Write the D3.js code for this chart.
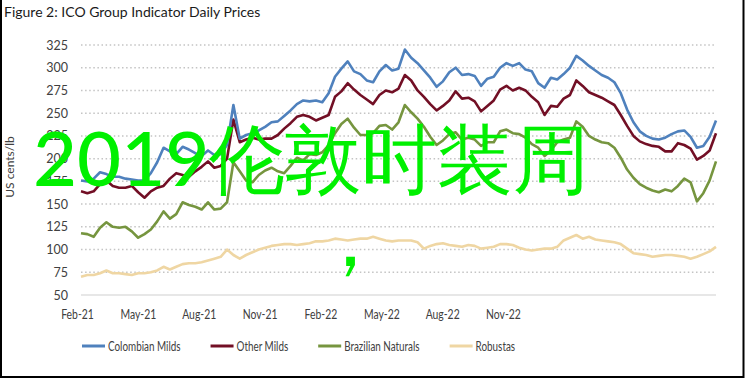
<!DOCTYPE html>
<html>
<head>
<meta charset="utf-8">
<script src="https://cdn.jsdelivr.net/npm/d3@7"></script>
<style>
  body { margin: 0; background: #fff; }
  text { font-family: Lato, "Open Sans", sans-serif; }
</style>
</head>
<body>
<div id="chart"></div>
<script>
// values, one reading per step along the x axis
var xLabels = ["Feb-21", "May-21", "Aug-21", "Nov-21", "Feb-22", "May-22", "Aug-22", "Nov-22"];
var yTicks = [50, 75, 100, 125, 150, 175, 200, 225, 250, 275, 300, 325];
var seriesNames = ["Colombian Milds", "Other Milds", "Brazilian Naturals", "Robustas"];

var colombianMilds = [176, 175, 178, 185, 183, 180, 180, 178, 177, 176,
  176, 184, 196, 212, 208, 205, 213, 210, 206, 203,
  209, 204, 205, 215, 259, 222, 226, 228, 231, 235,
  240, 241, 247, 253, 260, 264, 263, 264, 262, 272,
  290, 299, 307, 296, 293, 286, 284, 296, 303, 297,
  299, 320, 311, 305, 297, 289, 279, 285, 295, 300,
  292, 293, 291, 280, 288, 290, 300, 305, 302, 305,
  298, 296, 283, 278, 289, 287, 293, 300, 313, 308,
  302, 297, 292, 289, 284, 272, 254, 240, 230, 225,
  222, 221, 223, 227, 230, 231, 224, 212, 214, 224, 242];

var otherMilds = [164, 162, 164, 172, 176, 170, 168, 168, 170, 163,
  157, 164, 168, 170, 178, 184, 182, 180, 186, 191,
  197, 190, 192, 200, 243, 218, 221, 223, 221, 222,
  222, 226, 233, 239, 246, 248, 246, 242, 245, 248,
  268, 274, 283, 276, 270, 265, 260, 270, 275, 273,
  277, 292, 286, 275, 268, 260, 253, 258, 264, 274,
  266, 267, 263, 252, 258, 264, 276, 280, 275, 278,
  275, 268, 262, 248, 258, 257, 266, 270, 286, 280,
  273, 270, 267, 263, 259, 248, 236, 225, 219, 216,
  214, 213, 208, 208, 217, 215, 211, 199, 203, 209, 228];

var brazilianNaturals = [118, 117, 114, 124, 130, 125, 124, 125, 120, 113,
  117, 122, 131, 142, 134, 139, 152, 149, 147, 144,
  152, 144, 145, 152, 196, 186, 176, 174, 182, 187,
  190, 186, 184, 192, 201, 198, 205, 204, 207, 215,
  228, 238, 244, 234, 226, 226, 228, 236, 237, 232,
  240, 259, 251, 244, 235, 224, 215, 220, 227, 229,
  221, 223, 221, 214, 218, 218, 230, 232, 228, 227,
  223, 216, 212, 203, 209, 218, 221, 223, 241, 235,
  225, 221, 218, 217, 212, 201, 188, 179, 172, 168,
  165, 163, 166, 164, 170, 178, 174, 153, 162, 176, 197];

var robustas = [70, 72, 72, 74, 77, 74, 74, 73, 72, 74,
  74, 75, 77, 81, 78, 81, 84, 85, 85, 86,
  88, 90, 92, 100, 94, 90, 94, 97, 100, 102,
  104, 105, 106, 106, 105, 106, 107, 109, 109, 110,
  112, 111, 110, 111, 112, 112, 114, 112, 110, 109,
  110, 110, 110, 108, 101, 104, 106, 107, 105, 104,
  103, 105, 104, 101, 102, 103, 106, 106, 105, 102,
  100, 99, 100, 101, 101, 103, 110, 113, 116, 112,
  114, 111, 110, 109, 108, 106, 101, 96, 95, 94,
  92, 93, 94, 94, 93, 92, 90, 92, 95, 98, 103];

var colors = ["#4f81bd", "#720f25", "#76953f", "#efd6a3"];
var allSeries = [colombianMilds, otherMilds, brazilianNaturals, robustas];

var svgWidth = 745;
var svgHeight = 378;
var squeeze = 0.76; // the original face is a narrow one, Lato is squeezed to fit

var svg = d3.select("#chart")
  .append("svg")
  .attr("width", svgWidth)
  .attr("height", svgHeight);

// frame
svg.append("path")
  .attr("d", "M1,0 V377 H743.5 V0")
  .attr("fill", "none")
  .attr("stroke", "#000")
  .attr("stroke-width", 2);

svg.append("text")
  .attr("x", 4)
  .attr("y", 17)
  .attr("font-size", 14)
  .attr("fill", "#1a1a1a")
  .text("Figure 2: ICO Group Indicator Daily Prices");

var x = d3.scaleLinear()
  .domain([0, colombianMilds.length - 1])
  .range([81, 716]);

var y = d3.scaleLinear()
  .domain([50, 325])
  .range([295, 45]);

var xLab = d3.scalePoint()
  .domain(xLabels)
  .range([77, 503]);

// dotted gridlines
svg.append("g")
  .selectAll("line")
  .data(yTicks.slice(1))
  .enter()
  .append("line")
  .attr("x1", 81)
  .attr("x2", 716)
  .attr("y1", d => y(d))
  .attr("y2", d => y(d))
  .attr("stroke", "#c4c4c4")
  .attr("stroke-width", 1.5)
  .attr("stroke-dasharray", "1.5,2.6");

svg.append("line")
  .attr("x1", 81)
  .attr("x2", 716)
  .attr("y1", y(50))
  .attr("y2", y(50))
  .attr("stroke", "#d0d0d0")
  .attr("stroke-width", 1.2);

var yAxis = svg.append("g")
  .attr("transform", "translate(81,0)")
  .call(d3.axisLeft(y).tickValues(yTicks).tickSize(0).tickPadding(13));
yAxis.select(".domain").remove();
yAxis.selectAll("text")
  .attr("font-size", 12.5)
  .attr("fill", "#404040");

var xAxis = svg.append("g")
  .attr("transform", `translate(0,${y(50)})`)
  .call(d3.axisBottom(xLab).tickSize(0).tickPadding(15));
xAxis.select(".domain").remove();
xAxis.selectAll("text")
  .attr("font-size", 13)
  .attr("font-family", "Lato, sans-serif")
  .attr("fill", "#404040")
  .attr("transform", "scale(0.8,1)");

svg.append("text")
  .attr("transform", "translate(14,167) rotate(-90)")
  .attr("text-anchor", "middle")
  .attr("font-size", 12)
  .attr("fill", "#404040")
  .text("US cents/lb");

var line = d3.line()
  .x((d, i) => x(i))
  .y(d => y(d));

// draw back to front so the blue sits on top
svg.append("g")
  .selectAll("path")
  .data(allSeries.slice().reverse())
  .enter()
  .append("path")
  .attr("d", d => line(d))
  .attr("fill", "none")
  .attr("stroke", (d, i) => colors[colors.length - 1 - i])
  .attr("stroke-width", 2.6)
  .attr("stroke-linejoin", "round");

// legend, laid out left to right
var legend = svg.append("g").attr("transform", "translate(0,346)");
var lx = 82;
seriesNames.forEach(function(name, i) {
  legend.append("line")
    .attr("x1", lx)
    .attr("x2", lx + 23)
    .attr("stroke", colors[i])
    .attr("stroke-width", 3);
  var t = legend.append("text")
    .attr("transform", `translate(${lx + 26},4.5) scale(${squeeze},1)`)
    .attr("font-size", 13)
    .attr("fill", "#404040")
    .text(name);
  lx += 26 + t.node().getComputedTextLength() * squeeze + 30;
});

// overlay text
svg.append("text")
  .attr("x", 33)
  .attr("y", 186)
  .attr("font-family", "'Noto Sans CJK SC', sans-serif")
  .attr("font-weight", 500)
  .attr("font-size", 76)
  .attr("fill", "#00f000")
  .text("2019伦敦时装周");

svg.append("text")
  .attr("x", 310)
  .attr("y", 266)
  .attr("font-family", "'Noto Sans CJK SC', sans-serif")
  .attr("font-weight", 500)
  .attr("font-size", 80)
  .attr("fill", "#00f000")
  .text("，");
</script>
</body>
</html>
